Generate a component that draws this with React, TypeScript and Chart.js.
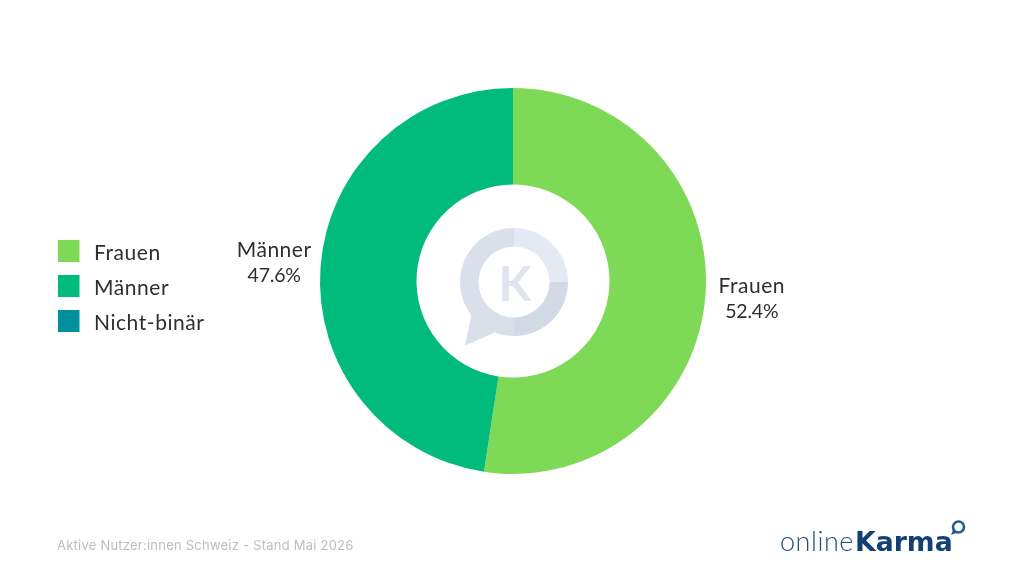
import { useEffect, useRef } from "react";
import Chart from "chart.js/auto";

const categories = ["Frauen", "Männer", "Nicht-binär"];
const shares = [52.4, 47.6, 0];
const colors = ["#7ed957", "#00bb7c", "#00909d"];
const footnote = "Aktive Nutzer:innen Schweiz - Stand Mai 2026";

const FONT = "Lato, 'Open Sans', sans-serif";

// watermark in the hole: speech bubble with a K
function drawWatermark(ctx: CanvasRenderingContext2D, cx: number, cy: number) {
  ctx.save();
  ctx.beginPath();
  ctx.moveTo(472, 312);
  ctx.lineTo(465, 345.5);
  ctx.lineTo(494, 333);
  ctx.closePath();
  ctx.fillStyle = "#dadfea";
  ctx.fill();
  const ring = (from: number, to: number, color: string) => {
    ctx.beginPath();
    ctx.arc(cx, cy, 54, from, to);
    ctx.arc(cx, cy, 35.5, to, from, true);
    ctx.closePath();
    ctx.fillStyle = color;
    ctx.fill();
  };
  ring(Math.PI / 2, Math.PI * 1.5, "#dadfea");
  ring(Math.PI * 1.5, Math.PI * 2, "#e4e9f4");
  ring(0, Math.PI / 2, "#d3dae6");
  ctx.font = `700 48px ${FONT}`;
  ctx.textAlign = "center";
  ctx.textBaseline = "alphabetic";
  ctx.fillStyle = "#e0e4ee";
  ctx.fillText("K", cx + 1, cy + 19);
  ctx.restore();
}

function drawLogo(ctx: CanvasRenderingContext2D) {
  ctx.save();
  ctx.textAlign = "left";
  ctx.textBaseline = "alphabetic";
  ctx.font = `300 27px ${FONT}`;
  ctx.fillStyle = "#1f4f7d";
  ctx.letterSpacing = "0.5px";
  ctx.fillText("online", 780, 551);
  ctx.font = `700 26.7px 'DejaVu Sans', ${FONT}`;
  ctx.fillStyle = "#123f74";
  ctx.letterSpacing = "0px";
  ctx.fillText("Karma", 855, 551);
  ctx.beginPath();
  ctx.arc(958.5, 527, 5.5, 0, Math.PI * 2);
  ctx.lineWidth = 2.6;
  ctx.strokeStyle = "#1f5f8f";
  ctx.stroke();
  ctx.beginPath();
  ctx.moveTo(953, 530);
  ctx.lineTo(951, 535);
  ctx.lineTo(956, 533);
  ctx.closePath();
  ctx.fillStyle = "#1f5f8f";
  ctx.fill();
  ctx.restore();
}

const annotations = {
  id: "annotations",
  beforeDatasetsDraw(chart: Chart) {
    const { ctx } = chart;
    const arc = chart.getDatasetMeta(0).data[0] as any;
    drawWatermark(ctx, arc.x + 1, arc.y + 1);
  },
  afterDatasetsDraw(chart: Chart) {
    const { ctx } = chart;
    const meta = chart.getDatasetMeta(0);
    ctx.save();
    ctx.fillStyle = "#2e2e2e";
    ctx.textAlign = "center";
    ctx.textBaseline = "middle";

    // slice labels sit on the ray through each arc's mid angle
    meta.data.forEach((el: any, i: number) => {
      if (!shares[i]) return;
      const mid = (el.startAngle + el.endAngle) / 2;
      const r = el.outerRadius + 46.5;
      const x = el.x + Math.cos(mid) * r;
      const y = el.y + Math.sin(mid) * r;
      ctx.font = `400 21px ${FONT}`;
      ctx.letterSpacing = "0.5px";
      ctx.fillText(categories[i], x, y - 12.5);
      ctx.font = `400 19.5px ${FONT}`;
      ctx.letterSpacing = "-0.2px";
      ctx.fillText(`${shares[i].toFixed(1)}%`, x, y + 12.5);
    });

    // legend
    ctx.font = `400 21px ${FONT}`;
    ctx.letterSpacing = "0.55px";
    ctx.textAlign = "left";
    ctx.textBaseline = "alphabetic";
    categories.forEach((name, i) => {
      const y = 240 + i * 35;
      ctx.fillStyle = colors[i];
      ctx.fillRect(58, y, 21.5, 22);
      ctx.fillStyle = "#2e2e2e";
      ctx.fillText(name, 94, y + 20);
    });

    ctx.font = `400 13px Inter, ${FONT}`;
    ctx.letterSpacing = "0.23px";
    ctx.fillStyle = "#bdbdbd";
    ctx.fillText(footnote, 57, 550);
    ctx.restore();

    drawLogo(ctx);
  },
};

export default function App() {
  const canvasRef = useRef<HTMLCanvasElement>(null);

  useEffect(() => {
    if (!canvasRef.current) return;
    document.body.style.margin = "0";

    const chart = new Chart(canvasRef.current, {
      type: "doughnut",
      data: {
        labels: categories,
        datasets: [
          {
            data: shares,
            backgroundColor: colors,
            borderWidth: 0,
          },
        ],
      },
      options: {
        responsive: false,
        animation: false,
        cutout: "50%",
        layout: { padding: { left: 320, right: 318, top: 88, bottom: 102 } },
        plugins: { legend: { display: false }, tooltip: { enabled: false } },
      },
      plugins: [annotations],
    });

    return () => chart.destroy();
  }, []);

  return (
    <div style={{ width: 1024, height: 576, background: "#ffffff" }}>
      <canvas ref={canvasRef} width={1024} height={576} style={{ display: "block" }} />
    </div>
  );
}
